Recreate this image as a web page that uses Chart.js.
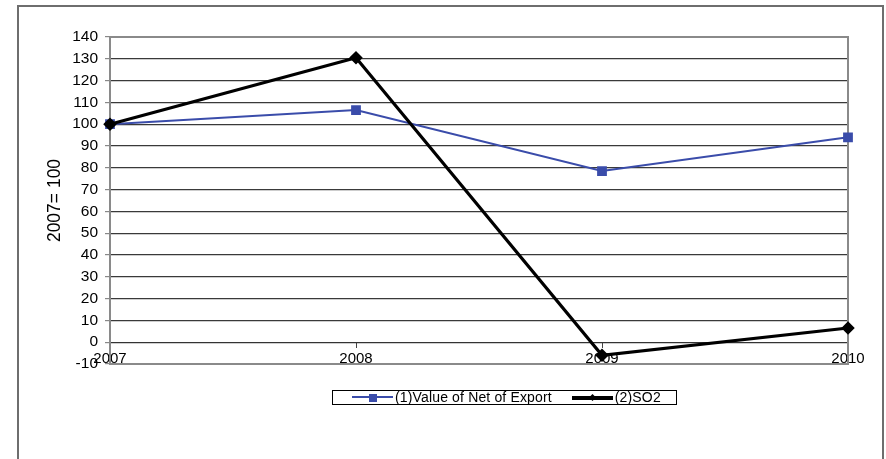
<!DOCTYPE html>
<html>
<head>
<meta charset="utf-8">
<script src="https://cdn.jsdelivr.net/npm/chart.js@4.4.1/dist/chart.umd.min.js"></script>
<style>
  html, body { margin: 0; padding: 0; background: #fff; overflow: hidden; }
  #frame {
    position: absolute; left: 17px; top: 5px; width: 863px; height: 470px;
    border: 2px solid #6e6e6e; border-bottom: none;
  }
  #wrap { position: absolute; left: 0; top: 0; width: 886px; height: 459px; }
  #legend {
    position: absolute; left: 332px; top: 390px; width: 345px; height: 15px;
    box-sizing: border-box; border: 1px solid #000; background: #fff;
    font: 14px "Liberation Sans", Arial, sans-serif; color: #000; line-height: 13px;
    display: flex; align-items: center; padding-left: 19px; letter-spacing: 0.15px;
  }
  .item { display: flex; align-items: center; margin-right: 20px; white-space: nowrap; }
  .swatch { position: relative; width: 41px; height: 0; margin-right: 2px; }
  .swatch .ln { position: absolute; left: 0; right: 0; top: 50%; }
  .swatch .mk { position: absolute; left: 50%; top: 50%; }
</style>
</head>
<body>
<div id="frame"></div>
<div id="wrap"><canvas id="chart"></canvas></div>
<div id="legend"></div>
<script>
const years = ['2007', '2008', '2009', '2010'];
const netExport = [100, 106.5, 78.5, 94];
const so2 = [100, 130.5, -6, 6.5];
const seriesNames = ['(1)Value of Net of Export', '(2)SO2'];
const yTicks = { min: -10, max: 140, step: 10 };
const yTitle = '2007= 100';

const blue = '#3a4caa';
const black = '#000000';

// grey frame around the plot area
const frame = {
  id: 'frame',
  beforeDatasetsDraw(chart) {
    const { ctx, chartArea: a } = chart;
    ctx.save();
    ctx.strokeStyle = '#8a8a8a';
    ctx.lineWidth = 2;
    ctx.strokeRect(a.left, a.top, a.right - a.left, a.bottom - a.top);
    ctx.restore();
  }
};

const chart = new Chart(document.getElementById('chart'), {
  type: 'line',
  data: {
    labels: years,
    datasets: [
      {
        label: seriesNames[0],
        data: netExport,
        borderColor: blue,
        backgroundColor: blue,
        borderWidth: 2,
        legendLine: 2.5,
        pointStyle: 'rect',
        pointRadius: 5.5,
        tension: 0,
        clip: false,
        order: 1
      },
      {
        label: seriesNames[1],
        data: so2,
        borderColor: black,
        backgroundColor: black,
        borderWidth: 3.2,
        legendLine: 4,
        pointStyle: 'rectRot',
        pointRadius: 4.5,
        tension: 0,
        clip: false,
        order: 0
      }
    ]
  },
  options: {
    responsive: true,
    maintainAspectRatio: false,
    animation: false,
    layout: { padding: { left: 45, top: 37, right: 38, bottom: 95 } },
    scales: {
      x: {
        type: 'category',
        offset: false,
        position: { y: 0 },
        grid: { drawOnChartArea: false, drawTicks: true, tickLength: 5, tickColor: '#444' },
        border: { display: true, color: '#333', width: 1 },
        ticks: {
          padding: 3,
          maxRotation: 0,
          color: '#000',
          font: { family: '"Liberation Sans", Arial, sans-serif', size: 15 }
        }
      },
      y: {
        min: yTicks.min,
        max: yTicks.max,
        afterFit(scale) { scale.width = 65; },
        grid: { color: '#3a3a3a', lineWidth: 1.2, tickLength: 5, tickColor: '#888' },
        border: { display: true, color: '#8a8a8a', width: 2 },
        ticks: {
          stepSize: yTicks.step,
          padding: 7,
          color: '#000',
          font: { family: '"Liberation Sans", Arial, sans-serif', size: 15.5 }
        },
        title: {
          display: true,
          text: yTitle,
          color: '#000',
          padding: { top: 0, bottom: 0 },
          font: { family: '"Liberation Sans", Arial, sans-serif', size: 17.5 }
        }
      }
    },
    plugins: {
      legend: { display: false },
      tooltip: { enabled: false }
    }
  },
  plugins: [frame]
});

// html legend with a box round it, built from the datasets
const legendEl = document.getElementById('legend');
chart.data.datasets.forEach((ds) => {
  const item = document.createElement('div');
  item.className = 'item';
  const sw = document.createElement('span');
  sw.className = 'swatch';
  const ln = document.createElement('span');
  ln.className = 'ln';
  ln.style.borderTop = ds.legendLine + 'px solid ' + ds.borderColor;
  ln.style.marginTop = (-ds.legendLine / 2) + 'px';
  const mk = document.createElement('span');
  mk.className = 'mk';
  mk.style.background = ds.backgroundColor;
  if (ds.pointStyle === 'rect') {
    mk.style.width = '8px'; mk.style.height = '8px';
    mk.style.margin = '-4px 0 0 -4px';
  } else {
    mk.style.width = '5px'; mk.style.height = '5px';
    mk.style.margin = '-2.5px 0 0 -2.5px';
    mk.style.transform = 'rotate(45deg)';
  }
  sw.appendChild(ln);
  sw.appendChild(mk);
  const txt = document.createElement('span');
  txt.textContent = ds.label;
  item.appendChild(sw);
  item.appendChild(txt);
  legendEl.appendChild(item);
});
</script>
</body>
</html>
